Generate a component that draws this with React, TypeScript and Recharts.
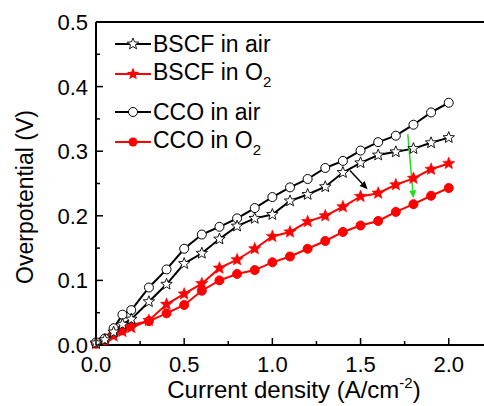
import React from 'react';
import {
  LineChart,
  Line,
  XAxis,
  YAxis,
  ReferenceLine,
  Legend,
} from 'recharts';

// current density (A/cm^-2)
const currentDensity = [
  0, 0.05, 0.1, 0.15, 0.2, 0.3, 0.4, 0.5, 0.6, 0.7, 0.8, 0.9,
  1.0, 1.1, 1.2, 1.3, 1.4, 1.5, 1.6, 1.7, 1.8, 1.9, 2.0,
];

// overpotential (V)
const bscfAir = [
  0.003, 0.008, 0.02, 0.032, 0.04, 0.067, 0.094, 0.126, 0.142, 0.164, 0.184, 0.196,
  0.202, 0.223, 0.233, 0.245, 0.267, 0.282, 0.294, 0.299, 0.304, 0.313, 0.321,
];
const bscfO2 = [
  0.002, 0.008, 0.014, 0.021, 0.027, 0.038, 0.063, 0.079, 0.095, 0.119, 0.132, 0.149,
  0.168, 0.175, 0.191, 0.2, 0.214, 0.23, 0.235, 0.248, 0.258, 0.272, 0.281,
];
const ccoAir = [
  0.004, 0.01, 0.026, 0.047, 0.054, 0.089, 0.117, 0.149, 0.171, 0.183, 0.196, 0.212,
  0.229, 0.244, 0.257, 0.274, 0.285, 0.301, 0.314, 0.324, 0.341, 0.36, 0.375,
];
const ccoO2 = [
  0.002, 0.007, 0.017, 0.023, 0.031, 0.037, 0.049, 0.062, 0.084, 0.1, 0.11, 0.116,
  0.128, 0.137, 0.149, 0.161, 0.175, 0.185, 0.192, 0.206, 0.218, 0.231, 0.243,
];

const xTicks = [0, 0.25, 0.5, 0.75, 1.0, 1.25, 1.5, 1.75, 2.0];
const yTicks = [0, 0.05, 0.1, 0.15, 0.2, 0.25, 0.3, 0.35, 0.4, 0.45, 0.5];

// annotation arrows: [start, end] in data units
const blackArrow = [{ x: 1.44, y: 0.27 }, { x: 1.54, y: 0.241 }];
const greenArrow = [{ x: 1.768, y: 0.326 }, { x: 1.8, y: 0.227 }];

const data = currentDensity.map((x, i) => ({
  x,
  bscfAir: bscfAir[i],
  bscfO2: bscfO2[i],
  ccoAir: ccoAir[i],
  ccoO2: ccoO2[i],
}));

const FONT = '"Liberation Sans", Arial, sans-serif';
const RED = '#ff0000';

function starPath(cx: number, cy: number, R: number, r: number) {
  let d = '';
  for (let i = 0; i < 10; i++) {
    const a = (-90 + i * 36) * Math.PI / 180;
    const rad = i % 2 === 0 ? R : r;
    d += (i === 0 ? 'M' : 'L') + (cx + rad * Math.cos(a)).toFixed(2) + ',' + (cy + rad * Math.sin(a)).toFixed(2);
  }
  return d + 'Z';
}

const hollowStar = (p: any) => (
  <path key={p.index} d={starPath(p.cx, p.cy, 6, 2.6)} fill="#fff" stroke="#000" strokeWidth={0.9} />
);
const redStar = (p: any) => (
  <path key={p.index} d={starPath(p.cx, p.cy, 6.5, 2.9)} fill={RED} stroke={RED} strokeWidth={0.5} />
);

const XTick = ({ x, y, payload }: any) => {
  const v = payload.value;
  const major = Math.abs(v * 2 - Math.round(v * 2)) < 1e-6;
  return (
    <g>
      <line x1={x} x2={x} y1={y} y2={y - (major ? 7 : 4)} stroke="#000" strokeWidth={1.5} />
      {major && (
        <text x={x} y={y + 27} textAnchor="middle" fontSize={22} fontFamily={FONT} fill="#000">
          {v.toFixed(1)}
        </text>
      )}
    </g>
  );
};

const YTick = ({ x, y, payload }: any) => {
  const v = payload.value;
  const major = Math.abs(v * 10 - Math.round(v * 10)) < 1e-6;
  return (
    <g>
      <line x1={x} x2={x + (major ? 7 : 4)} y1={y} y2={y} stroke="#000" strokeWidth={1.5} />
      {major && (
        <text x={x - 8} y={y} dy="0.36em" textAnchor="end" fontSize={22} fontFamily={FONT} fill="#000">
          {v.toFixed(1)}
        </text>
      )}
    </g>
  );
};

const arrowShape = (color: string) => (p: any) => {
  const { x1, y1, x2, y2 } = p;
  const ang = Math.atan2(y2 - y1, x2 - x1);
  const len = 8;
  const w = 3.5;
  const bx = x2 - len * Math.cos(ang);
  const by = y2 - len * Math.sin(ang);
  const px = -Math.sin(ang) * w;
  const py = Math.cos(ang) * w;
  return (
    <g>
      <line x1={x1} y1={y1} x2={bx} y2={by} stroke={color} strokeWidth={1.5} />
      <polygon points={`${x2},${y2} ${bx + px},${by + py} ${bx - px},${by - py}`} fill={color} />
    </g>
  );
};

const legendItems = [
  { label: 'BSCF in air', sub: '', color: '#000', marker: 'hollowStar' },
  { label: 'BSCF in O', sub: '2', color: RED, marker: 'redStar' },
  { label: 'CCO in air', sub: '', color: '#000', marker: 'hollowCircle' },
  { label: 'CCO in O', sub: '2', color: RED, marker: 'redCircle' },
];

const LegendSymbol = ({ color, marker }: { color: string; marker: string }) => (
  <svg width={36} height={20} style={{ display: 'block' }}>
    <line x1={0} x2={36} y1={10} y2={10} stroke={color} strokeWidth={2} />
    {marker === 'hollowStar' && <path d={starPath(18, 10, 6, 2.6)} fill="#fff" stroke="#000" strokeWidth={0.9} />}
    {marker === 'redStar' && <path d={starPath(18, 10, 6.5, 2.9)} fill={RED} />}
    {marker === 'hollowCircle' && <circle cx={18} cy={10} r={4.5} fill="#fff" stroke="#000" strokeWidth={1} />}
    {marker === 'redCircle' && <circle cx={18} cy={10} r={4.5} fill={RED} />}
  </svg>
);

const renderLegend = () => (
  <div style={{ fontFamily: FONT, fontSize: 23, color: '#000' }}>
    {legendItems.map((it) => (
      <div
        key={it.label + it.sub}
        style={{ display: 'flex', alignItems: 'center', height: 30, marginBottom: it.sub ? 8 : 0 }}
      >
        <LegendSymbol color={it.color} marker={it.marker} />
        <span style={{ marginLeft: 2, whiteSpace: 'nowrap' }}>
          {it.label}
          {it.sub && <sub style={{ fontSize: 15, verticalAlign: -7 }}>{it.sub}</sub>}
        </span>
      </div>
    ))}
  </div>
);

export default function App() {
  return (
    <div style={{ position: 'absolute', left: 0, top: 0, width: 484, height: 406, background: '#fff' }}>
      <LineChart
        width={484}
        height={406}
        data={data}
        margin={{ top: 22, right: 0, bottom: 0, left: 0 }}
      >
        <XAxis
          type="number"
          dataKey="x"
          domain={[0, 2.2]}
          ticks={xTicks}
          interval={0}
          height={61}
          tickSize={0}
          tickMargin={0}
          tickLine={false}
          axisLine={{ stroke: '#000', strokeWidth: 2 }}
          tick={<XTick />}
        />
        <YAxis
          type="number"
          domain={[0, 0.5]}
          ticks={yTicks}
          interval={0}
          width={96}
          tickSize={0}
          tickMargin={0}
          tickLine={false}
          axisLine={{ stroke: '#000', strokeWidth: 2 }}
          tick={<YTick />}
        />
        <ReferenceLine y={0.5} stroke="#000" strokeWidth={2} />
        <Line type="linear" dataKey="ccoO2" stroke={RED} strokeWidth={2}
          dot={{ r: 4.5, fill: RED, stroke: RED, strokeWidth: 1 }} isAnimationActive={false} />
        <Line type="linear" dataKey="bscfO2" stroke={RED} strokeWidth={2}
          dot={redStar} isAnimationActive={false} />
        <Line type="linear" dataKey="ccoAir" stroke="#000" strokeWidth={2}
          dot={{ r: 4.5, fill: '#fff', stroke: '#000', strokeWidth: 1 }} isAnimationActive={false} />
        <Line type="linear" dataKey="bscfAir" stroke="#000" strokeWidth={2}
          dot={hollowStar} isAnimationActive={false} />
        <ReferenceLine segment={blackArrow} shape={arrowShape('#000')} />
        <ReferenceLine segment={greenArrow} shape={arrowShape('#22dd22')} />
        <Legend
          layout="horizontal"
          verticalAlign="middle"
          align="center"
          content={renderLegend}
          wrapperStyle={{ position: 'absolute', left: 115, top: 29, width: 'auto', height: 'auto' }}
        />
        <text x={25} y={197} transform="rotate(-90 25 197)" textAnchor="middle" dy="0.36em"
          fontSize={23} fontFamily={FONT} fill="#000">
          Overpotential (V)
        </text>
        <text x={294} y={398} textAnchor="middle" fontSize={24} fontFamily={FONT} fill="#000">
          Current density (A/cm
          <tspan fontSize={15} dy={-10}>-2</tspan>
          <tspan dy={10}>)</tspan>
        </text>
      </LineChart>
    </div>
  );
}
